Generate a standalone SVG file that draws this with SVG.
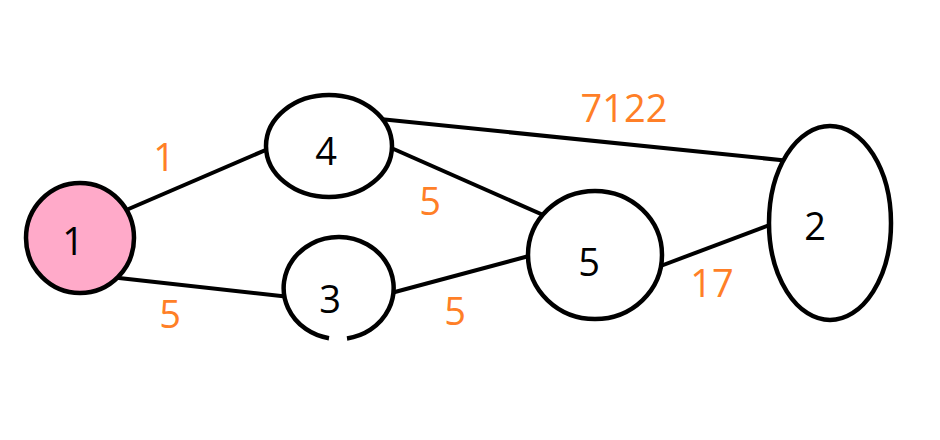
<svg xmlns="http://www.w3.org/2000/svg" width="940" height="440" viewBox="0 0 940 440">
<style>
.n{fill:#fff;stroke:#000;stroke-width:4.5}
.e{stroke:#000;stroke-width:4;fill:none}
.t{font-family:"Open Sans","DejaVu Sans",sans-serif;font-size:38px;fill:#000;text-anchor:middle}
.w{font-family:"Open Sans","DejaVu Sans",sans-serif;font-size:38px;fill:#FF7F27;text-anchor:middle}
</style>
<rect width="940" height="440" fill="#fff"/>
<g id="edges">
<line class="e" x1="110" y1="217" x2="275" y2="146"/>
<line class="e" x1="110" y1="277" x2="290" y2="297"/>
<line class="e" x1="370" y1="118" x2="790" y2="161"/>
<line class="e" x1="380" y1="143" x2="550" y2="218"/>
<line class="e" x1="380" y1="296" x2="540" y2="253"/>
<line class="e" x1="650" y1="270" x2="780" y2="221"/>
<text class="w" x="164" y="171">1</text>
<text class="w" x="170" y="328">5</text>
<text class="w" x="624" y="122">7122</text>
<text class="w" x="430" y="215">5</text>
<text class="w" x="455" y="325">5</text>
<text class="w" x="712" y="297">17</text>
</g>
<g id="node1"><ellipse cx="80" cy="238" rx="54" ry="55" class="n" style="fill:#FFAAC9"/><text class="t" x="73" y="255">1</text></g>
<g id="node4"><ellipse cx="329" cy="146" rx="63" ry="51" class="n"/><text class="t" x="326" y="165">4</text></g>
<g id="node3"><path class="n" d="M347 338.4 A55 51 0 1 0 329 338.2"/><text class="t" x="330" y="313">3</text></g>
<g id="node5"><ellipse cx="595" cy="255" rx="67" ry="64" class="n"/><text class="t" x="589" y="276">5</text></g>
<g id="node2"><ellipse cx="830" cy="223" rx="61" ry="97" class="n"/><text class="t" x="815" y="240">2</text></g>
</svg>
